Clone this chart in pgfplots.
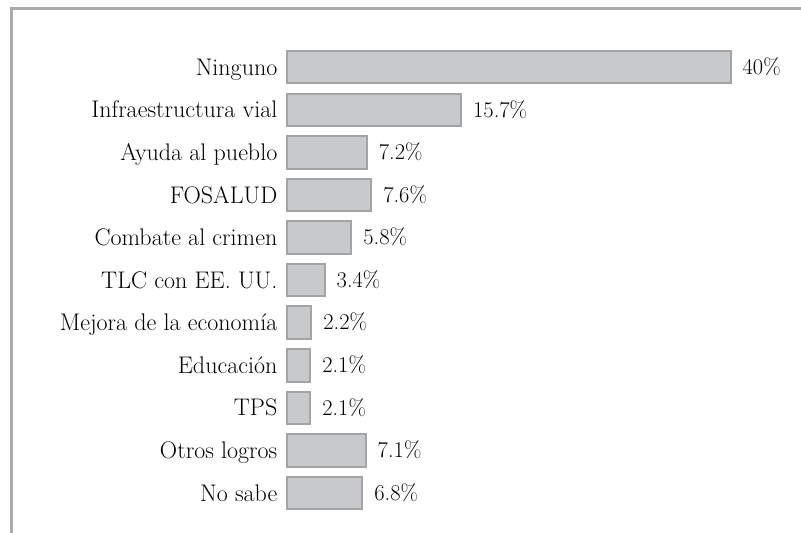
\documentclass[border=0pt]{standalone}
\usepackage{fontspec}
\usepackage{pgfplots}
\pgfplotsset{compat=1.18}
\definecolor{barfill}{HTML}{C8C9CB}
\definecolor{baredge}{HTML}{A3A4A6}
\definecolor{framegray}{HTML}{A9AAAC}
\begin{document}
\begin{tikzpicture}
\path[use as bounding box] (0,0) rectangle (801pt,533pt);
\draw[line width=2.5pt, framegray] (11.5pt,0pt) -- (11.5pt,524.7pt) -- (801pt,524.7pt);
\begin{axis}[
  at={(287pt,18.7pt)}, anchor=south west,
  scale only axis,
  x=11.09pt, y=42.58pt,
  xmin=0, xmax=45, ymin=-0.5, ymax=10.5,
  y dir=reverse,
  xbar, bar width=32.5pt,
  axis line style={draw=none},
  xtick=\empty,
  ytick={0,...,10},
  yticklabels={Ninguno, Infraestructura vial, Ayuda al pueblo, FOSALUD, Combate al crimen, TLC con EE. UU., Mejora de la economía, Educación, TPS, Otros logros, No sabe},
  major tick length=0pt,
  yticklabel style={font=\fontsize{24}{28}\selectfont, inner sep=0pt, anchor=base east, xshift=-9.5pt, yshift=-8.1pt},
  clip=false,
  point meta=x,
  nodes near coords={\pgfmathprintnumber[fixed,precision=1,assume math mode=true]{\pgfplotspointmeta}\%},
  nodes near coords style={font=\fontsize{22.5}{27}\selectfont, anchor=base west, inner sep=0pt, xshift=11pt, yshift=-7.3pt, text=black},
]
\addplot[fill=barfill, draw=baredge, line width=2pt] coordinates {(40,0) (15.7,1) (7.2,2) (7.6,3) (5.8,4) (3.4,5) (2.2,6) (2.1,7) (2.1,8) (7.1,9) (6.8,10)};
\end{axis}
\end{tikzpicture}
\end{document}
